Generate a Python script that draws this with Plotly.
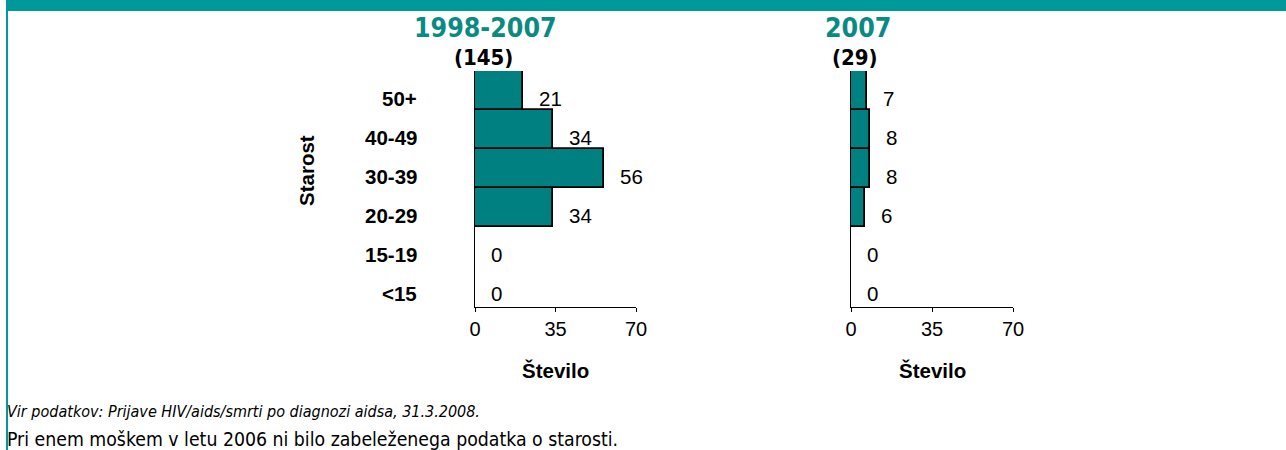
import plotly.graph_objects as go

# Age groups, listed bottom to top
age_groups = ["<15", "15-19", "20-29", "30-39", "40-49", "50+"]
cases_1998_2007 = [0, 0, 34, 56, 34, 21]
cases_2007 = [0, 0, 6, 8, 8, 7]
total_1998_2007 = 145
total_2007 = 29
x_ticks = [0, 35, 70]

W, H = 1286, 450
TEAL_BAR = "#008080"
TEAL_HEAD = "#009999"
TITLE_TEAL = "#0a8a84"
ARIAL = "Liberation Sans, Arial, sans-serif"
TAHOMA = "DejaVu Sans Condensed, DejaVu Sans, sans-serif"
TXT = 20.5


def px_x(p):
    return p / W


def px_y(p):
    return 1 - p / H


left_dom = [px_x(475), px_x(636)]
right_dom = [px_x(851), px_x(1013)]
y_dom = [px_y(307), px_y(71)]

fig = go.Figure()

panels = [
    ("x", "y", cases_1998_2007),
    ("x2", "y2", cases_2007),
]
for xa, ya, vals in panels:
    fig.add_trace(go.Bar(
        x=vals, y=age_groups, orientation="h",
        xaxis=xa, yaxis=ya,
        marker=dict(color=TEAL_BAR, line=dict(color="black", width=1.8)),
        hoverinfo="skip", showlegend=False,
    ))

axis_common = dict(
    range=[0, 70], tickvals=x_ticks, ticktext=[str(t) for t in x_ticks],
    showgrid=False, zeroline=False, showline=True, linecolor="black",
    linewidth=1, ticks="outside", ticklen=4, tickcolor="black",
    tickfont=dict(family=ARIAL, size=20, color="black"), fixedrange=True,
    automargin=False,
)
yaxis_common = dict(
    categoryorder="array", categoryarray=age_groups,
    showgrid=False, zeroline=False, showline=True, linecolor="black",
    linewidth=1, showticklabels=False, ticks="", fixedrange=True,
    domain=y_dom, automargin=False,
)

fig.update_layout(
    width=W, height=H,
    margin=dict(l=0, r=0, t=0, b=0, pad=0),
    paper_bgcolor="white", plot_bgcolor="white",
    bargap=0,
    xaxis=dict(domain=left_dom, anchor="y", **axis_common),
    yaxis=dict(anchor="x", **yaxis_common),
    xaxis2=dict(domain=right_dom, anchor="y2", **axis_common),
    yaxis2=dict(anchor="x2", **yaxis_common),
)


def label(x, y, text, font, xanchor="center", yanchor="middle", **kw):
    return dict(x=x, y=y, text=text, showarrow=False, font=font,
                xanchor=xanchor, yanchor=yanchor, **kw)


arial = dict(family=ARIAL, size=TXT, color="black")
ann = []
# value labels next to the bars
for xr, yr, vals in [("x", "y", cases_1998_2007), ("x2", "y2", cases_2007)]:
    for cat, v in zip(age_groups, vals):
        ann.append(label(v, cat, str(v), arial, xanchor="left",
                         xref=xr, yref=yr, xshift=14, yshift=-8))

# age group labels on the left panel
for cat in age_groups:
    ann.append(label(0, cat, "<b>%s</b>" % cat, arial, xanchor="right",
                     xref="x", yref="y", xshift=-56, yshift=-8))

# axis titles
for dom in (left_dom, right_dom):
    ann.append(label((dom[0] + dom[1]) / 2, px_y(370), "<b>Število</b>", arial,
                     xref="paper", yref="paper"))
ann.append(label(px_x(306), px_y(171), "<b>Starost</b>", arial,
                 xref="paper", yref="paper", textangle=-90))

# panel titles and totals
for cx, title, total, cx2 in [(485, "1998-2007", total_1998_2007, 483),
                              (858, "2007", total_2007, 855)]:
    ann.append(label(px_x(cx), px_y(28), "<b>%s</b>" % title,
                     dict(family=TAHOMA, size=26.5, color=TITLE_TEAL),
                     xref="paper", yref="paper"))
    ann.append(label(px_x(cx2), px_y(57), "<b>(%d)</b>" % total,
                     dict(family=TAHOMA, size=22, color="black"),
                     xref="paper", yref="paper"))

# footnotes
ann.append(label(px_x(5), px_y(411),
                 "<i>Vir podatkov: Prijave HIV/aids/smrti po diagnozi aidsa, 31.3.2008.</i>",
                 dict(family=TAHOMA, size=16, color="black"), xanchor="left",
                 xref="paper", yref="paper"))
ann.append(label(px_x(5), px_y(439),
                 "Pri enem moškem v letu 2006 ni bilo zabeleženega podatka o starosti.",
                 dict(family=TAHOMA, size=19.3, color="black"), xanchor="left",
                 xref="paper", yref="paper"))

fig.update_layout(annotations=ann)

# header band and left frame edge
fig.add_shape(type="rect", xref="paper", yref="paper",
              x0=px_x(6), x1=1, y0=px_y(11), y1=1,
              fillcolor=TEAL_HEAD, line=dict(width=0), layer="below")
fig.add_shape(type="rect", xref="paper", yref="paper",
              x0=px_x(6), x1=px_x(8), y0=0, y1=1,
              fillcolor=TEAL_HEAD, line=dict(width=0), layer="below")

fig.write_html(
    "out.html",
    config={"displayModeBar": False},
    post_script="document.body.style.margin='0';"
                "document.body.style.overflow='hidden';",
)
